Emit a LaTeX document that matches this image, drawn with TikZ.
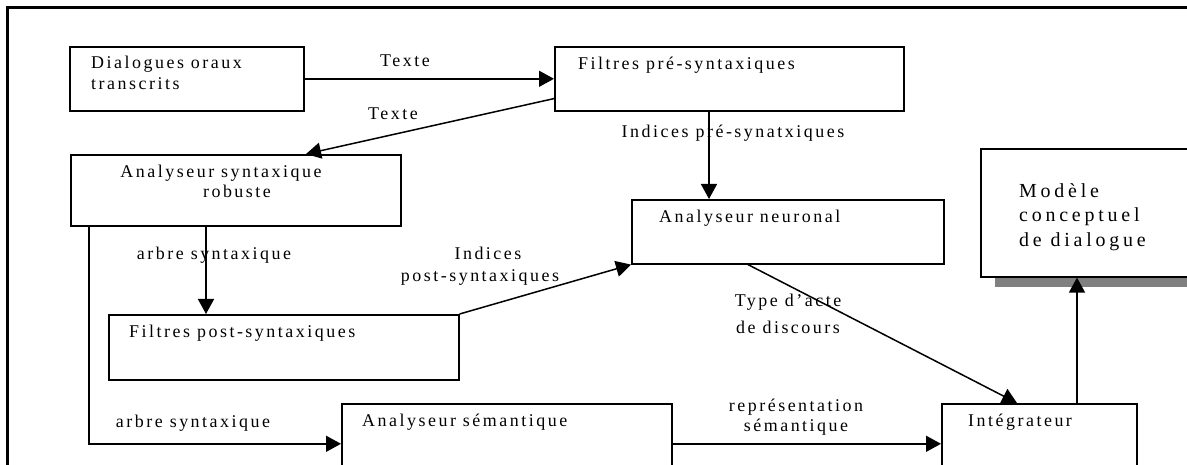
\documentclass[tikz,border=0pt]{standalone}
\usepackage{fontspec}
\setmainfont{Liberation Serif}[LetterSpace=14]
\usetikzlibrary{arrows.meta,calc}
\definecolor{shadowgray}{HTML}{808080}
\begin{document}
\begin{tikzpicture}[x=1bp,y=-1bp,
  box/.style={draw, line width=1.6bp, inner sep=0pt, anchor=north west, fill=white},
  lbl/.style={inner sep=0pt, anchor=base west, font=\fontsize{18}{21}\selectfont},
  clbl/.style={inner sep=0pt, anchor=base, font=\fontsize{18}{21}\selectfont},
  biglbl/.style={inner sep=0pt, anchor=base west, font=\fontsize{20}{24}\selectfont\addfontfeatures{LetterSpace=19}},
  conn/.style={line width=1.5bp, -{Triangle[length=15bp,width=16bp]}},
  framestyle/.style={line width=2.6bp}]
\useasboundingbox (0,0) rectangle (1187,465);
\fill[white] (-10,-10) rectangle (1200,480);

% outer frame (top and left edges)
\draw[framestyle] (7.7,470) -- (7.7,7.5) -- (1195,7.5);

% boxes
\node[box, minimum width=234bp, minimum height=64bp] (dial) at (69,46) {};
\node[box, minimum width=349bp, minimum height=64bp] (fpre) at (554,46) {};
\node[box, minimum width=330bp, minimum height=71bp] (asyn) at (70,154) {};
\node[box, minimum width=312bp, minimum height=64bp] (aneu) at (631,199) {};
\node[fill=shadowgray, inner sep=0pt, anchor=north west, minimum width=220bp, minimum height=11bp] (modshadow) at (995,276) {};
\node[box, minimum width=230bp, minimum height=128bp] (mod) at (980,148) {};
\node[box, minimum width=350bp, minimum height=65bp] (fpost) at (108,314) {};
\node[box, minimum width=330bp, minimum height=80bp] (asem) at (341,403) {};
\node[box, minimum width=195bp, minimum height=80bp] (integ) at (941,403) {};

% box texts
\node[lbl] (tdial1) at (91,69) {Dialogues oraux};
\node[lbl] (tdial2) at (91,90) {transcrits};
\node[lbl] (tfpre) at (578,70) {Filtres pré-syntaxiques};
\node[clbl] (tasyn1) at (221,178) {Analyseur syntaxique};
\node[clbl] (tasyn2) at (237,198) {robuste};
\node[lbl] (taneu) at (659,223) {Analyseur neuronal};
\node[biglbl] (tmod1) at (1019,198) {Modèle};
\node[biglbl] (tmod2) at (1019,222) {conceptuel};
\node[biglbl] (tmod3) at (1019,247) {de dialogue};
\node[lbl] (tfpost) at (129,338) {Filtres post-syntaxiques};
\node[lbl] (tasem) at (362,427) {Analyseur sémantique};
\node[lbl] (tinteg) at (968,427) {Intégrateur};

% connector points
\coordinate (fpreW) at ($(fpre.south west)+(0,-13)$);
\coordinate (asynN) at ($(asyn.north west)+(236,0)$);
\coordinate (fpreS) at ($(fpre.south west)+(155,0)$);
\coordinate (asynA) at ($(asyn.south west)+(19,0)$);
\coordinate (asynB) at ($(asyn.south west)+(136,0)$);
\coordinate (aneuS) at ($(aneu.south west)+(117,0)$);
\coordinate (integNW) at ($(integ.north west)+(76,0)$);
\coordinate (integN) at ($(integ.north west)+(136,0)$);

% connectors
\draw[conn] (dial.east) -- (fpre.west);
\draw[conn] (fpreW) -- (asynN);
\draw[conn] (fpreS) -- (fpreS |- aneu.north);
\draw[conn] (asynA) |- (asem.west);
\draw[conn] (asynB) -- (asynB |- fpost.north);
\draw[conn] (fpost.north east) -- (aneu.south west);
\draw[conn] (aneuS) -- (integNW);
\draw[conn] (asem.east) -- (integ.west);
\draw[conn] (integN) -- (integN |- mod.south);

% connector labels
\node[clbl] (lt1) at (405,67) {Texte};
\node[clbl] (lt2) at (393,120) {Texte};
\node[clbl] (lipre) at (733,138) {Indices pré-synatxiques};
\node[clbl] (larb1) at (214,260) {arbre syntaxique};
\node[clbl] (lipost1) at (488,260) {Indices};
\node[clbl] (lipost2) at (480,282) {post-syntaxiques};
\node[clbl] (ltype1) at (788,307) {Type d'acte};
\node[clbl] (ltype2) at (788,334) {de discours};
\node[clbl] (lrep1) at (796,412) {représentation};
\node[clbl] (lrep2) at (796,432) {sémantique};
\node[clbl] (larb2) at (193,428) {arbre syntaxique};
\end{tikzpicture}
\end{document}
